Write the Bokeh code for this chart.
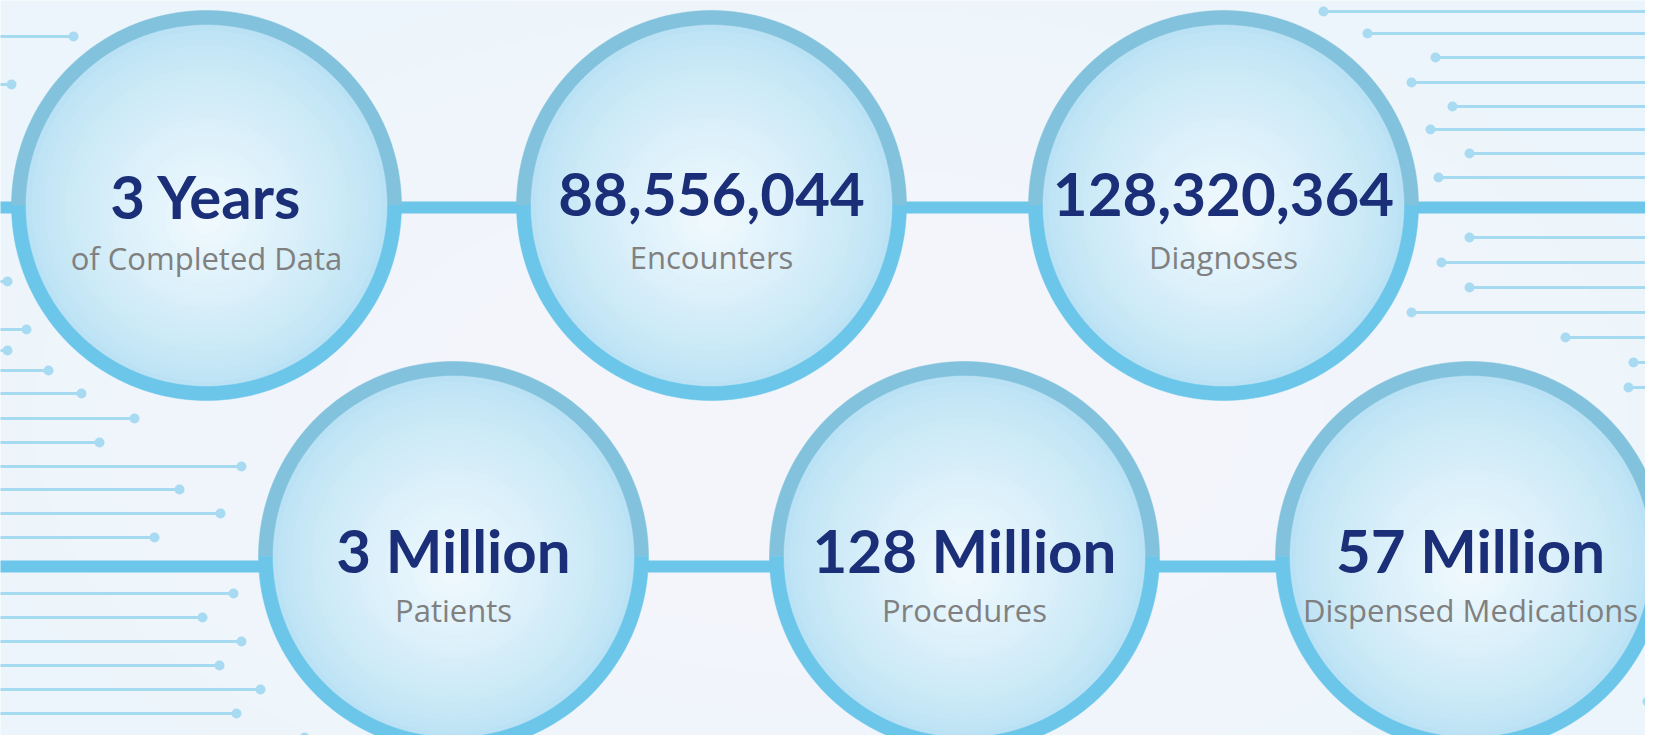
import numpy as np
from bokeh.plotting import figure
from bokeh.models import Range1d, ColumnDataSource
from bokeh.core.properties import value
from bokeh.embed import file_html
from bokeh.resources import INLINE

# ---------------- data ----------------
big_labels = ["3 Years", "88,556,044", "128,320,364", "3 Million", "128 Million", "57 Million"]
sub_labels = ["of Completed Data", "Encounters", "Diagnoses", "Patients", "Procedures", "Dispensed Medications"]

# decorative circuit lines (left: from edge to dot, right: from dot to edge)
left_line_y = [36, 84, 281, 329, 350, 370, 393, 418, 442, 466, 489, 513, 537, 593, 617, 641, 665, 689, 713, 737]
left_dot_x = [73, 11, 7, 26, 7, 48, 81, 134, 99, 241, 179, 220, 154, 233, 202, 241, 219, 260, 236, 304]
right_line_y = [11, 33, 57, 82, 106, 129, 153, 177, 237, 262, 287, 312, 337, 362, 387, 701, 748]
right_dot_x = [1323, 1367, 1435, 1411, 1452, 1430, 1469, 1438, 1469, 1441, 1469, 1411, 1565, 1633, 1628, 1647, 1567]

# ---------------- layout ----------------
circle_x = [206, 711, 1223, 453, 964, 1470]
circle_y = [205, 205, 205, 556, 556, 556]
row_line_y = [207, 566]
num_base_y = [195, 194, 194, 549, 549, 549]
sub_base_y = [257, 256, 256, 609, 609, 609]
R = 195
RING = 14
X0, X1, Y0, Y1 = 0, 1645, 0, 735

p = figure(width=X1 - X0, height=Y1 - Y0, x_range=Range1d(X0, X1), y_range=Range1d(Y1, Y0),
           output_backend="svg", toolbar_location=None, min_border=0)
p.axis.visible = False
p.grid.visible = False
p.outline_line_color = None
p.background_fill_color = "#EBF5FB"
p.border_fill_color = "#EBF5FB"

# soft light background glow
for k in range(10):
    s = 1 - k * 0.08
    p.ellipse(x=830, y=420, width=1900 * s, height=980 * s, fill_color="white", fill_alpha=0.075,
              line_color=None)

# thin decorative lines
ls = ColumnDataSource(dict(x0=[X0 - 5] * len(left_line_y), x1=left_dot_x, y=left_line_y))
p.segment(x0="x0", y0="y", x1="x1", y1="y", source=ls, line_color="#A6DAF1", line_width=3)
p.scatter(x="x1", y="y", source=ls, size=10, fill_color="#A8DBF2", line_color=None)
rs = ColumnDataSource(dict(x0=right_dot_x, x1=[X1 + 30] * len(right_line_y), y=right_line_y))
p.segment(x0="x0", y0="y", x1="x1", y1="y", source=rs, line_color="#A6DAF1", line_width=3)
p.scatter(x="x0", y="y", source=rs, size=10, fill_color="#A8DBF2", line_color=None)

# thick connector lines
for ly in row_line_y:
    p.segment(x0=[X0 - 5], y0=[ly], x1=[X1 + 30], y1=[ly], line_color="#6CC6EA", line_width=12)

# circle fills (radial gradient made of stacked discs)
c_out = np.array([186, 226, 244])
c_in = np.array([238, 248, 253])
n = 26
for k in range(n):
    t = k / (n - 1)
    r = (R - RING + 1) * (1 - 0.92 * t)
    col = c_out + (c_in - c_out) * (t ** 0.8)
    hexc = "#%02x%02x%02x" % tuple(int(round(v)) for v in col)
    p.circle(x=circle_x, y=[cy + 14 * t for cy in circle_y], radius=r,
             fill_color=hexc, line_color=None)

# rings: upper half steel blue, lower half sky blue
th = np.linspace(0, np.pi, 90)
up_xs, up_ys, lo_xs, lo_ys = [], [], [], []
for cx, cy in zip(circle_x, circle_y):
    ox = cx + R * np.cos(th)
    oy = cy - R * np.sin(th)
    ix = cx + (R - RING) * np.cos(th[::-1])
    iy = cy - (R - RING) * np.sin(th[::-1])
    up_xs.append(list(np.concatenate([ox, ix])))
    up_ys.append(list(np.concatenate([oy, iy])))
    oy2 = cy + R * np.sin(th)
    iy2 = cy + (R - RING) * np.sin(th[::-1])
    lo_xs.append(list(np.concatenate([ox, ix])))
    lo_ys.append(list(np.concatenate([oy2, iy2])))
p.patches(xs=up_xs, ys=up_ys, fill_color="#83C2DD", line_color="#83C2DD", line_width=0.5)
p.patches(xs=lo_xs, ys=lo_ys, fill_color="#6BC6EA", line_color="#6BC6EA", line_width=0.5)

# texts
src = ColumnDataSource(dict(x=circle_x, ny=num_base_y, sy=sub_base_y, big=big_labels, sub=sub_labels))
p.text(x="x", y="ny", text="big", source=src, text_align="center", text_baseline="alphabetic",
       text_font=value("Lato"), text_font_style="bold", text_font_size="60px", text_color="#1B2E78")
p.text(x="x", y="sy", text="sub", source=src, text_align="center", text_baseline="alphabetic",
       text_font=value("Open Sans"), text_font_size="31px", text_color="#808080")

open("out.html", "w").write(file_html(p, INLINE))
